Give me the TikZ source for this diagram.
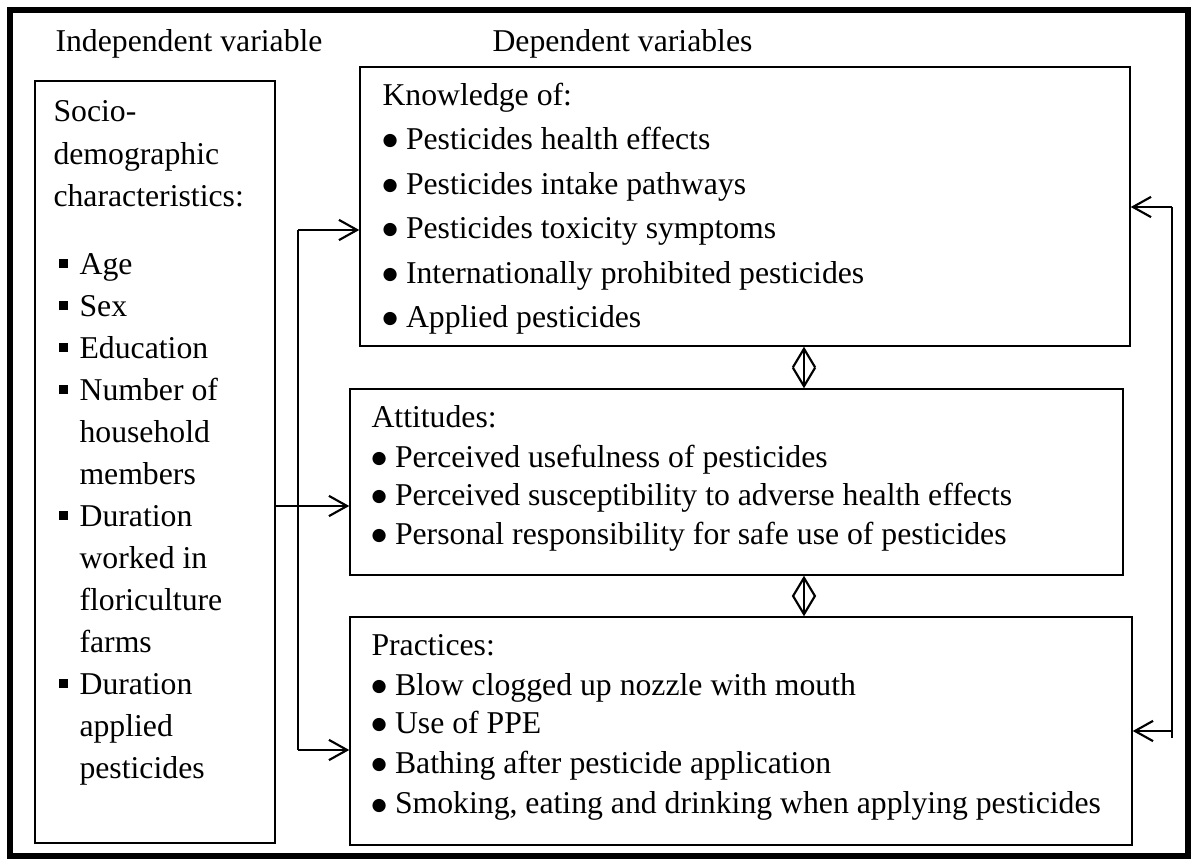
\documentclass[tikz,border=0pt]{standalone}
\usepackage{fontspec}
\setmainfont{Liberation Serif}
\newfontfamily\symfont{DejaVu Sans}
\usetikzlibrary{arrows.meta,fit}
\tikzset{box/.style={draw,line width=0.55pt,inner sep=0pt}}
\tikzset{txt/.style={anchor=base west,inner sep=0pt,font=\fontsize{11.9}{14}\selectfont}}
\tikzset{link/.style={line width=0.8pt}}
\newcommand{\sqitem}{\makebox[7.9pt][l]{\rule[2.6pt]{3.4pt}{3.4pt}}}
\newcommand{\dotitem}{\makebox[8.8pt][l]{\raisebox{1.5pt}{\fontsize{6.5}{6.5}\symfont ●}}}

\begin{document}
\begin{tikzpicture}[x=0.375pt,y=-0.375pt,>={Straight Barb[length=6.8pt,width=7.6pt]}]
\useasboundingbox (0,0) rectangle (1191,859);
\draw[line width=2.2pt] (10,10) rectangle (1188,856);
% headings
\node[txt] (hind) at (55,52) {Independent variable};
\node[txt] (hdep) at (492,52) {Dependent variables};
% boxes
\node[box,fit={(35,81) (275,843)}] (indep) {};
\node[box,fit={(360,67) (1130,346)}] (know) {};
\node[box,fit={(350,389) (1123,575)}] (att) {};
\node[box,fit={(350,617) (1132,845)}] (prac) {};
% independent variable
\foreach \y/\t in {122/Socio-,165/demographic,207/characteristics:}
  \node[txt] (s\y) at (53,\y) {\t};
\foreach \y/\t in {275/Age,317/Sex,359/Education,401/Number of,527/Duration,695/Duration}
  \node[txt] (s\y) at (58,\y) {\sqitem\t};
\foreach \y/\t in {443/household,485/members,569/worked in,611/floriculture,653/farms,737/applied,779/pesticides}
  \node[txt] (s\y) at (79,\y) {\t};
% knowledge
\node[txt] (khead) at (382,106) {Knowledge of:};
\foreach \y/\t in {150/Pesticides health effects,195/Pesticides intake pathways,239/Pesticides toxicity symptoms,284/Internationally prohibited pesticides,328/Applied pesticides}
  \node[txt] (k\y) at (382,\y) {\dotitem\t};
% attitudes
\node[txt] (ahead) at (371,428) {Attitudes:};
\foreach \y/\t in {468/Perceived usefulness of pesticides,506/Perceived susceptibility to adverse health effects,545/Personal responsibility for safe use of pesticides}
  \node[txt] (a\y) at (371,\y) {\dotitem\t};
% practices
\node[txt] (phead) at (371,656) {Practices:};
\foreach \y/\t in {696/Blow clogged up nozzle with mouth,734/Use of PPE,774/Bathing after pesticide application,{814/Smoking, eating and drinking when applying pesticides}}
  \node[txt] (p\y) at (371,\y) {\dotitem\t};
% connectors
\coordinate (bt) at (298,230);
\coordinate (bm) at (298,506);
\coordinate (bb) at (298,750);
\draw[link] (bt) -- (bb);
\draw[link,->] (bt) -- (bt -| know.west);
\draw[link,->] (bm -| indep.east) -- (bm -| att.west);
\draw[link,->] (bb) -- (bb -| prac.west);
\coordinate (rt) at (1172,207);
\coordinate (rb) at (1172,738);
\draw[link] (rt) -- (rb);
\draw[link,->] (rt) -- (rt -| know.east);
\draw[link,->] (rb |- prac.east) -- (prac.east);
\coordinate (dx) at (804,0);
\draw[link,{Straight Barb[length=7pt,width=8.4pt]}-{Straight Barb[length=7pt,width=8.4pt]}] (know.south -| dx) -- (att.north -| dx);
\draw[link,{Straight Barb[length=7pt,width=8.4pt]}-{Straight Barb[length=7pt,width=8.4pt]}] (att.south -| dx) -- (prac.north -| dx);
\end{tikzpicture}
\end{document}
